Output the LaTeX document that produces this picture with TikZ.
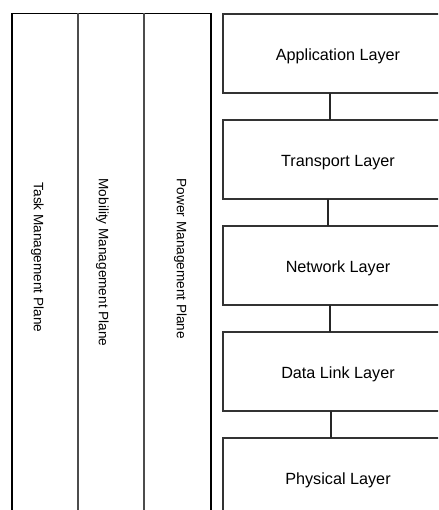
\documentclass[tikz,border=0pt]{standalone}
\usepackage{fontspec}
\setmainfont{Liberation Sans}
\usetikzlibrary{positioning}

\begin{document}
\begin{tikzpicture}[x=1pt, y=-1pt,
	layer/.style={draw=black!80, line width=1.4pt, minimum width=230pt,
		minimum height=79.3pt, outer sep=0pt, text height=17.4pt, text depth=3.4pt,
		font=\fontsize{16.2}{19}\selectfont},
	plane/.style={rotate=-90, inner sep=0pt, font=\fontsize{13.6}{16}\selectfont},
	link/.style={draw=black!85, line width=1.4pt},
	node distance=26.7pt]
\useasboundingbox (0,0) rectangle (438,510);
\clip (0,0) rectangle (438,510);

% management planes
\draw[black, line width=1.6pt]
	(12,600) -- (12,13.5) -- (211,13.5) -- (211,600);
\draw[black!70, line width=1.6pt]
	(78,13.5) -- (78,600)
	(144,13.5) -- (144,600);
\node[plane] (task) at (37.5,257.5) {Task Management Plane};
\node[plane] (mobility) at (102.5,262.5) {Mobility Management Plane};
\node[plane] (power) at (180.5,259) {Power Management Plane};

% protocol stack
\node[layer] (app) at (338,53.5) {Application Layer};
\node[layer, below=of app] (trans) {Transport Layer};
\node[layer, below=of trans] (net) {Network Layer};
\node[layer, below=of net] (dll) {Data Link Layer};
\node[layer, below=of dll] (phy) {Physical Layer};

\draw[link]
	([xshift=-8pt]app.south) -- ([xshift=-8pt]trans.north)
	([xshift=-10pt]trans.south) -- ([xshift=-10pt]net.north)
	([xshift=-8pt]net.south) -- ([xshift=-8pt]dll.north)
	([xshift=-7pt]dll.south) -- ([xshift=-7pt]phy.north);
\end{tikzpicture}
\end{document}
